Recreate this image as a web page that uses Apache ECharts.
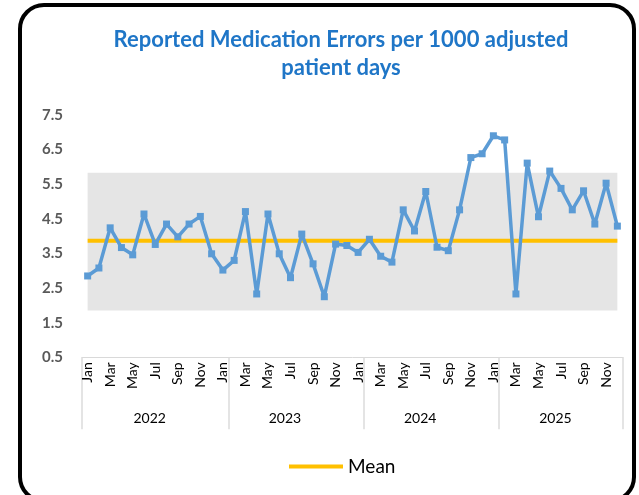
<!DOCTYPE html>
<html><head><meta charset="utf-8">
<script src="https://cdn.jsdelivr.net/npm/echarts@6/dist/echarts.min.js"></script>
<style>
html,body{margin:0;padding:0;width:639px;height:495px;overflow:hidden;background:#fff;}
#frame{position:absolute;left:18px;top:3px;width:618px;height:500px;border:4px solid #000;border-radius:26px;box-sizing:border-box;}
#main{position:absolute;left:0;top:0;width:639px;height:495px;}
</style></head>
<body>
<div id="frame"></div>
<div id="main"></div>
<script>
const months = ['Jan','Feb','Mar','Apr','May','Jun','Jul','Aug','Sep','Oct','Nov','Dec'];
const years = ['2022','2023','2024','2025'];
const categories = [];
years.forEach(y => months.forEach(m => categories.push(m + ' ' + y)));
const errorRate = [
  2.85, 3.08, 4.24, 3.67, 3.46, 4.64, 3.76, 4.35, 3.98, 4.35, 4.57, 3.49,
  3.02, 3.30, 4.71, 2.33, 4.64, 3.49, 2.80, 4.06, 3.20, 2.25, 3.77, 3.73,
  3.53, 3.91, 3.42, 3.25, 4.76, 4.15, 5.29, 3.68, 3.58, 4.76, 6.27, 6.38,
  6.90, 6.78, 2.33, 6.11, 4.56, 5.88, 5.38, 4.76, 5.31, 4.35, 5.53, 4.29
];
const meanValue = 3.87;
const lowerLimit = 1.85;
const upperLimit = 5.83;
const yTicks = [0.5, 1.5, 2.5, 3.5, 4.5, 5.5, 6.5, 7.5];

const meanLine = categories.map(() => meanValue);
const bandBase = categories.map(() => lowerLimit);
const bandWidth = categories.map(() => +(upperLimit - lowerLimit).toFixed(2));
const monthLabels = categories.map(c => c.split(' ')[0]);
const FONT = 'Lato, "Open Sans", sans-serif';

const chart = echarts.init(document.getElementById('main'), null, {renderer: 'canvas'});
chart.setOption({
  animation: false,
  title: {
    text: 'Reported Medication Errors per 1000 adjusted\npatient days',
    left: 336, top: 21, textAlign: 'center',
    textStyle: {color: '#1f76c7', fontSize: 22, fontWeight: 'bold', fontFamily: FONT, lineHeight: 28}
  },
  legend: {
    data: ['Mean'], left: 284, top: 452,
    icon: 'rect', itemWidth: 54, itemHeight: 4, itemGap: 6,
    textStyle: {color: '#000', fontSize: 19, fontFamily: FONT}
  },
  grid: {left: 82, right: 16, top: 115, bottom: 137.7, containLabel: false},
  xAxis: [
    {
      type: 'category', data: monthLabels, boundaryGap: true,
      axisLine: {show: true, lineStyle: {color: '#d9d9d9', width: 1}},
      axisTick: {show: false},
      axisLabel: {rotate: 90, interval: 1, margin: 5, color: '#000', fontSize: 14, fontFamily: FONT}
    },
    {
      type: 'category', data: categories, boundaryGap: true, position: 'bottom',
      axisLine: {show: false},
      axisTick: {show: true, length: 72, lineStyle: {color: '#dcdcdc', width: 1.5},
        interval: function (idx) { return idx === 0 || idx === 13 || idx === 25 || idx === 37; }},
      axisLabel: {show: false}
    },
    {
      type: 'category', data: years, boundaryGap: true, position: 'bottom',
      axisLine: {show: false}, axisTick: {show: false},
      axisLabel: {margin: 54, color: '#000', fontSize: 14, fontFamily: FONT}
    }
  ],
  yAxis: {
    type: 'value', min: yTicks[0], max: yTicks[yTicks.length - 1], interval: 1,
    axisLine: {show: false}, axisTick: {show: false}, splitLine: {show: false},
    axisLabel: {margin: 19, color: '#595959', fontSize: 15, fontWeight: 'bold', fontFamily: FONT,
      formatter: v => v.toFixed(1)}
  },
  series: [
    {
      name: 'LCL', type: 'line', xAxisIndex: 1, data: bandBase, stack: 'band',
      symbol: 'none', lineStyle: {width: 0, opacity: 0}, silent: true
    },
    {
      name: 'Band', type: 'line', xAxisIndex: 1, data: bandWidth, stack: 'band',
      symbol: 'none', lineStyle: {width: 0, opacity: 0}, areaStyle: {color: '#e5e5e5', opacity: 1}, silent: true
    },
    {
      name: 'Mean', type: 'line', xAxisIndex: 1, data: meanLine, symbol: 'none',
      lineStyle: {color: '#ffc000', width: 4}, itemStyle: {color: '#ffc000'}, z: 3
    },
    {
      name: 'Rate', type: 'line', xAxisIndex: 0, data: errorRate,
      symbol: 'rect', symbolSize: 7, showAllSymbol: true,
      lineStyle: {color: '#5b9bd5', width: 3.5}, itemStyle: {color: '#5b9bd5'}, z: 4
    }
  ]
});
</script>
</body></html>
